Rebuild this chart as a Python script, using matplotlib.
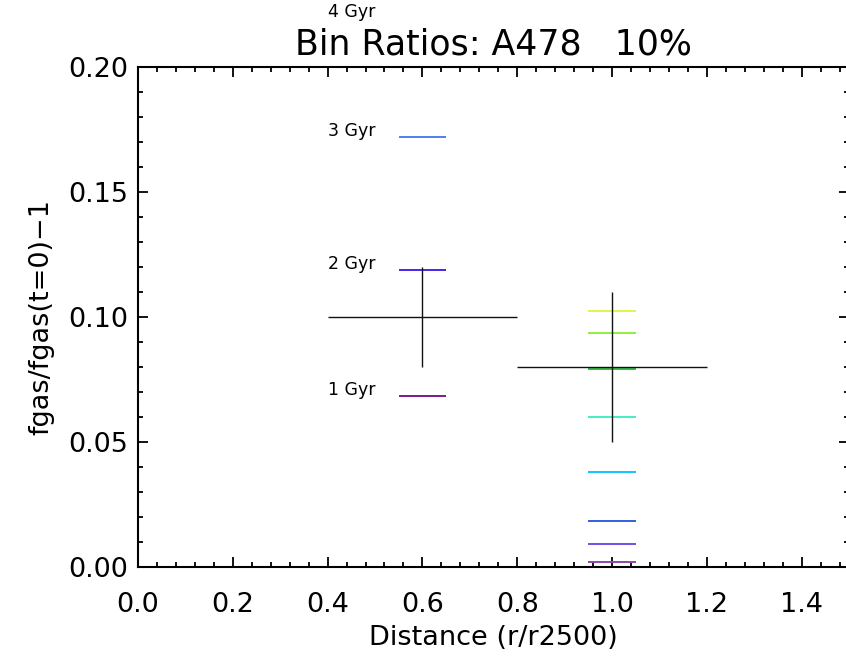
import matplotlib
matplotlib.use('Agg')
import matplotlib.pyplot as plt
from matplotlib.ticker import MultipleLocator

# binned ratios: bin centre, half width, value, error
bin_r = [0.6, 1.0]
bin_dr = [0.2, 0.2]
bin_ratio = [0.10, 0.08]
bin_err = [0.02, 0.03]

# inner bin, one value per elapsed time
inner_labels = ['1 Gyr', '2 Gyr', '3 Gyr', '4 Gyr']
inner_vals = [0.0684, 0.1188, 0.1720, 0.2196]
inner_colors = ['#7d1a8c', '#4a22f2', '#4f7ef0', '#2a9af0']

# outer bin, one value per elapsed time
outer_vals = [0.0021, 0.0092, 0.0184, 0.0379, 0.0601, 0.0792, 0.0937, 0.1025]
outer_colors = ['#8c4aa0', '#7150e8', '#2e62de', '#10c4ff',
                '#44f0c4', '#2cc43c', '#8ef03e', '#e2f44c']

plt.rcParams['font.family'] = ['DejaVu Sans']

fig = plt.figure(figsize=(8.46, 6.59), dpi=100)
ax = fig.add_axes([138/846, 92/659, 711/846, 500/659])

# coloured markers for each epoch
for v, c in zip(inner_vals, inner_colors):
    ax.hlines(v, 0.55, 0.65, color=c, lw=1.4, zorder=2)
for v, lab in zip(inner_vals, inner_labels):
    ax.text(0.40, v + 0.0024, lab, fontsize=12.5, ha='left', va='center',
            clip_on=False)
for v, c in zip(outer_vals, outer_colors):
    ax.hlines(v, 0.95, 1.05, color=c, lw=1.4, zorder=2)

# black crosses on top
ax.errorbar(bin_r, bin_ratio, xerr=bin_dr, yerr=bin_err, fmt='none',
            ecolor='#111111', elinewidth=1.0, capsize=0, zorder=3)

ax.set_xlim(0, 1.5)
ax.set_ylim(0, 0.2)
ax.xaxis.set_major_locator(MultipleLocator(0.2))
ax.xaxis.set_minor_locator(MultipleLocator(0.04))
ax.yaxis.set_major_locator(MultipleLocator(0.05))
ax.yaxis.set_minor_locator(MultipleLocator(0.01))
ax.xaxis.set_major_formatter(plt.FormatStrFormatter('%.1f'))
ax.yaxis.set_major_formatter(plt.FormatStrFormatter('%.2f'))

ax.tick_params(which='both', direction='in', top=True, right=True,
               width=1.3, labelsize=19.5)
ax.tick_params(which='major', length=7)
ax.tick_params(which='minor', length=3.5)
ax.tick_params(axis='x', which='major', pad=18)
ax.tick_params(axis='y', which='major', pad=7)
for s in ax.spines.values():
    s.set_linewidth(1.5)

ax.set_xlabel('Distance (r/r2500)', fontsize=19.5, labelpad=5)
ax.set_ylabel('fgas/fgas(t=0)\u22121', fontsize=19.5, labelpad=10)
ax.set_title('Bin Ratios: A478   10%', fontsize=25, pad=9)

fig.savefig('out.png', dpi=100)
